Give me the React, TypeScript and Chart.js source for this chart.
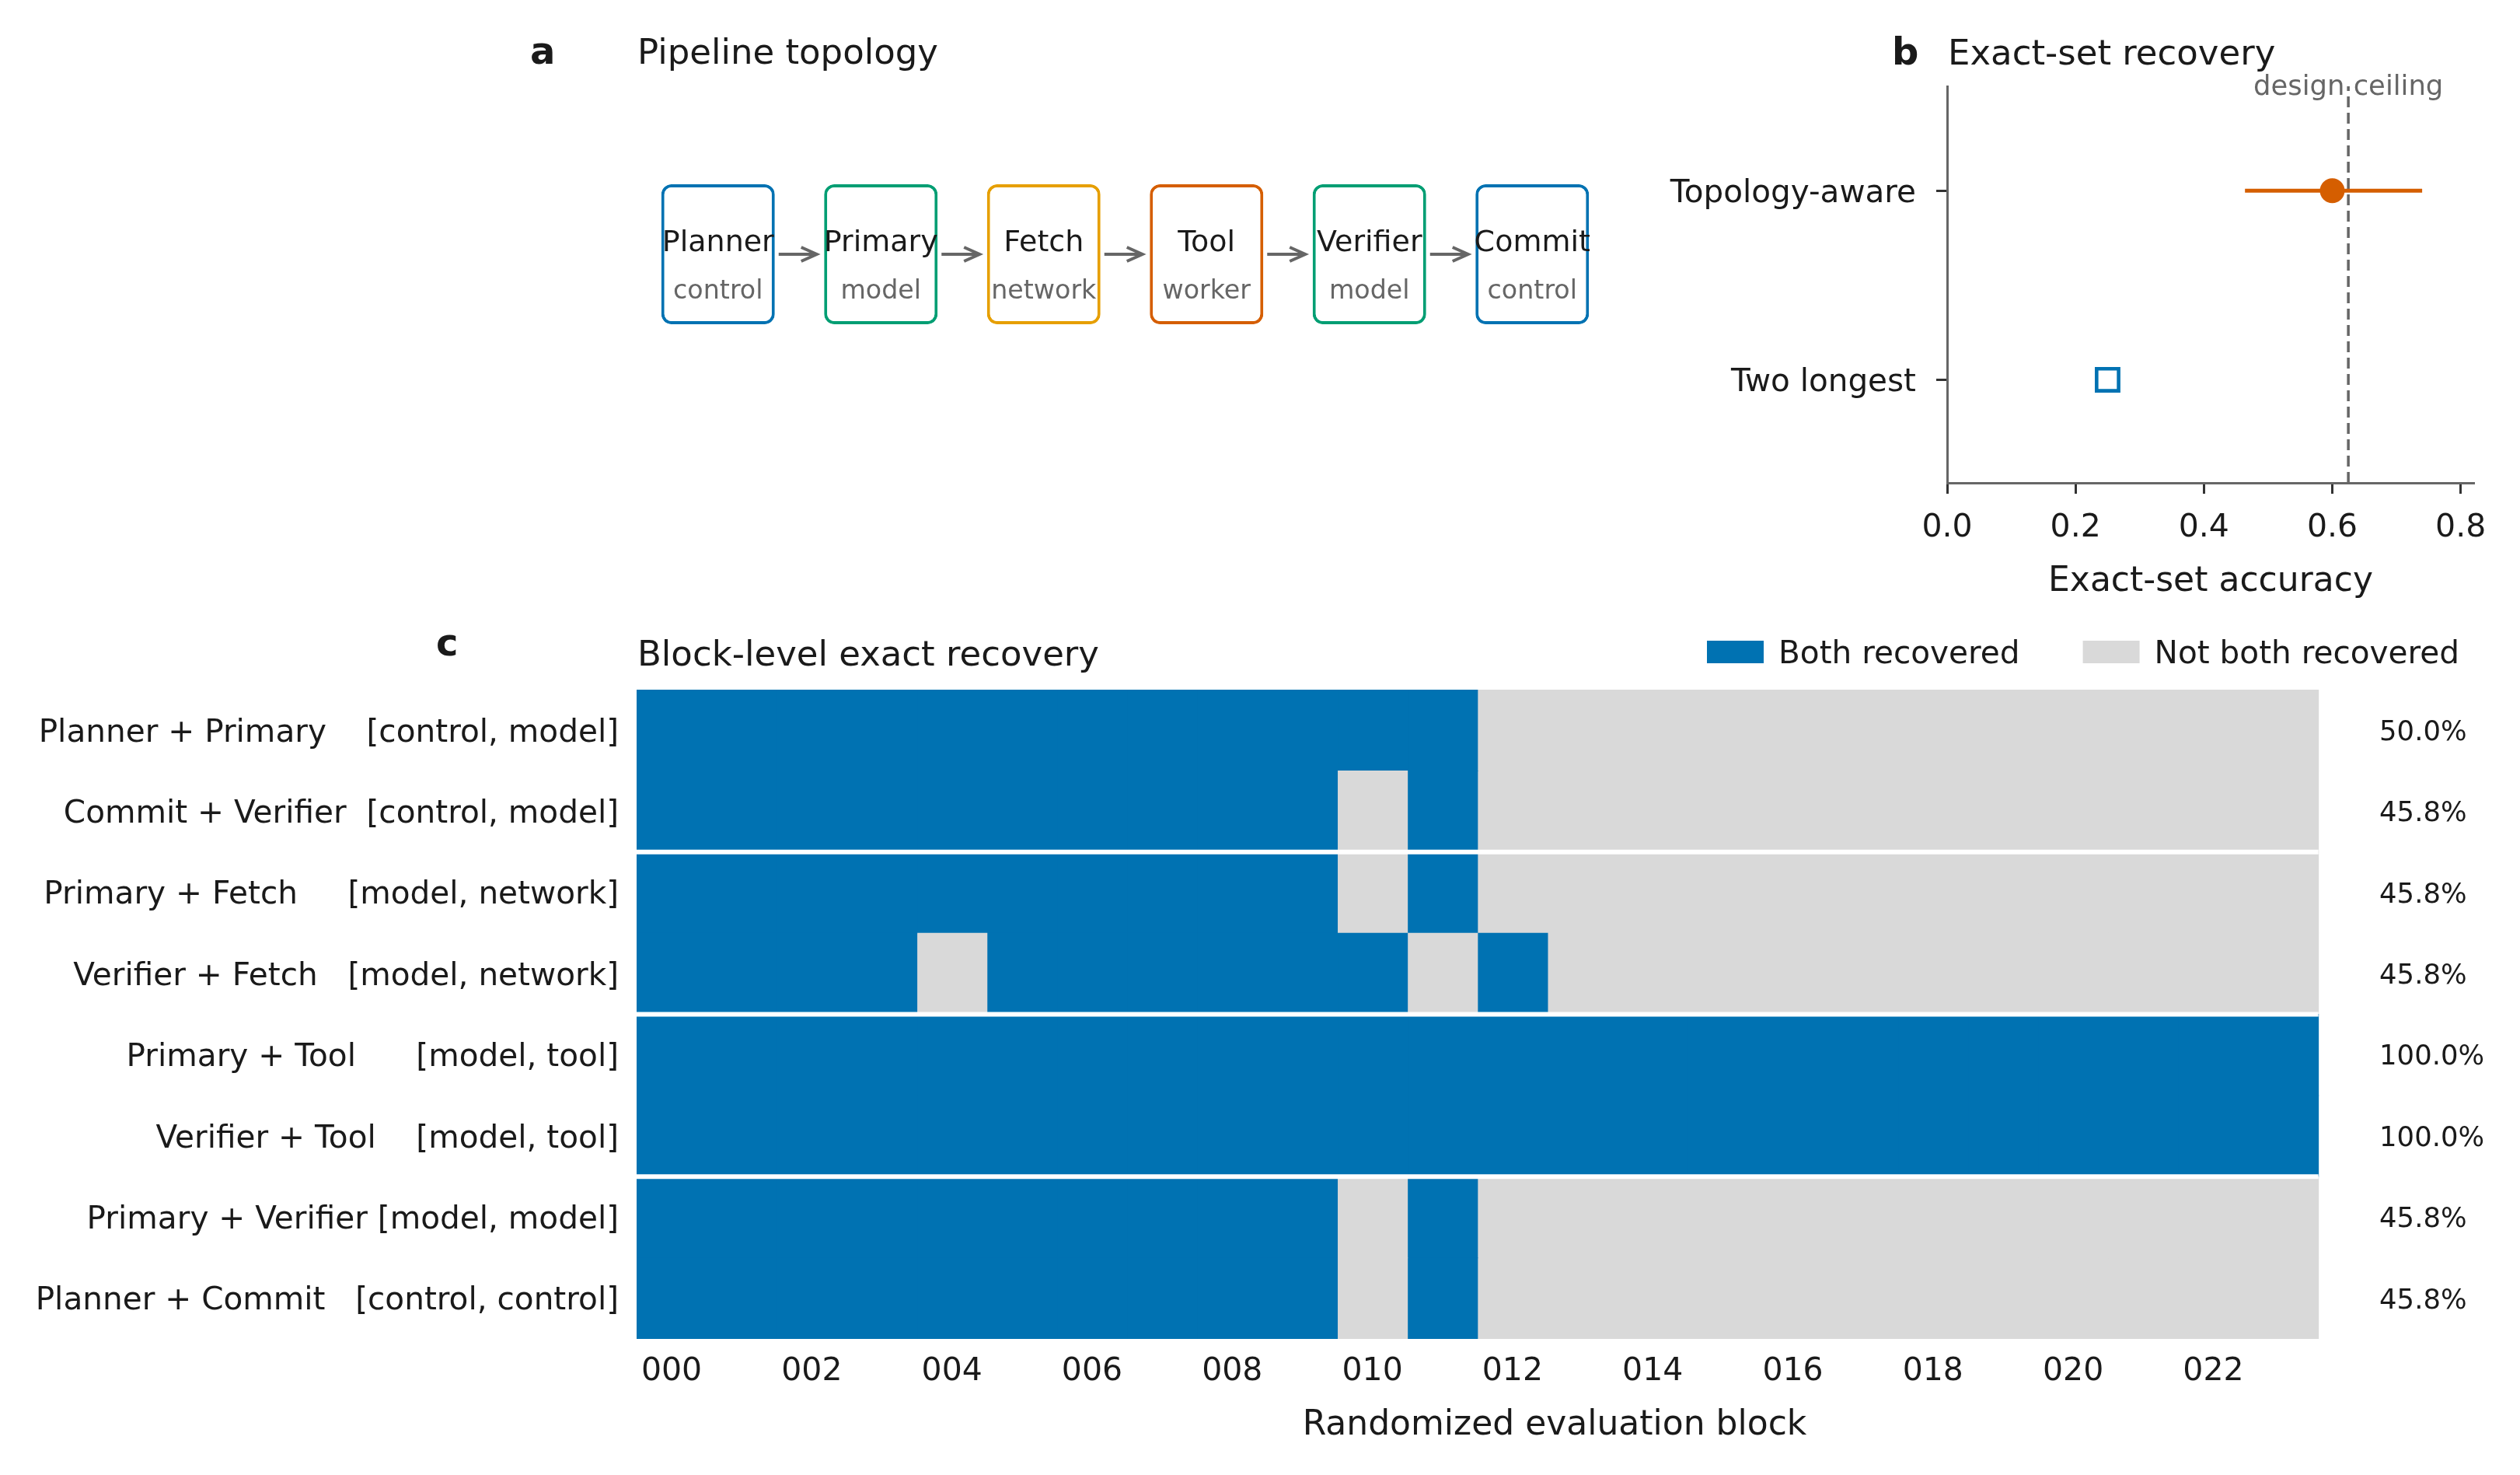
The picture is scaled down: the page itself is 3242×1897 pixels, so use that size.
import React, { useEffect, useRef } from 'react';
import { Chart, registerables } from 'chart.js';

Chart.register(...registerables);

// ---------------- page / style constants ----------------
const PAGE_W = 3242;
const PAGE_H = 1897;
const FONT = "'DejaVu Sans', 'Liberation Sans', sans-serif";
const INK = '#1a1a1a';
const MUTED = '#666666';
const TICK_INK = '#333333';
const BLUE = '#0072B2';
const GREEN = '#009E73';
const YELLOW = '#E69F00';
const VERMILLION = '#D55E00';
const CELL_OFF = '#D9D9D9';
const MID_FIX = 4; // canvas 'middle' sits a little above the glyph centre

Chart.defaults.font.family = FONT;
Chart.defaults.color = INK;

// ---------------- data: panel a (pipeline) ----------------
const STAGES = ['Planner', 'Primary', 'Fetch', 'Tool', 'Verifier', 'Commit'];
const STAGE_ROLES = ['control', 'model', 'network', 'worker', 'model', 'control'];
const STAGE_COLORS = [BLUE, GREEN, YELLOW, VERMILLION, GREEN, BLUE];

// ---------------- data: panel b (exact-set recovery) ----------------
const METHODS = ['Two longest', 'Topology-aware'];
const EXACT_SET_ACC = [0.25, 0.6];
const CI_LOWER = [null, 0.464];
const CI_UPPER = [null, 0.74];
const DESIGN_CEILING = 0.625;
const ACC_TICKS = [0, 0.2, 0.4, 0.6, 0.8];

// ---------------- data: panel c (block-level recovery) ----------------
const PAIR_LABELS = [
  'Planner + Primary    [control, model]',
  'Commit + Verifier  [control, model]',
  'Primary + Fetch     [model, network]',
  'Verifier + Fetch   [model, network]',
  'Primary + Tool      [model, tool]',
  'Verifier + Tool    [model, tool]',
  'Primary + Verifier [model, model]',
  'Planner + Commit   [control, control]',
];
const BLOCK_IDS = [
  '000', '001', '002', '003', '004', '005', '006', '007', '008', '009', '010', '011',
  '012', '013', '014', '015', '016', '017', '018', '019', '020', '021', '022', '023',
];
const REC_PLANNER_PRIMARY = [1, 1, 1, 1, 1, 1, 1, 1, 1, 1, 1, 1, 0, 0, 0, 0, 0, 0, 0, 0, 0, 0, 0, 0];
const REC_COMMIT_VERIFIER = [1, 1, 1, 1, 1, 1, 1, 1, 1, 1, 0, 1, 0, 0, 0, 0, 0, 0, 0, 0, 0, 0, 0, 0];
const REC_PRIMARY_FETCH = [1, 1, 1, 1, 1, 1, 1, 1, 1, 1, 0, 1, 0, 0, 0, 0, 0, 0, 0, 0, 0, 0, 0, 0];
const REC_VERIFIER_FETCH = [1, 1, 1, 1, 0, 1, 1, 1, 1, 1, 1, 0, 1, 0, 0, 0, 0, 0, 0, 0, 0, 0, 0, 0];
const REC_PRIMARY_TOOL = [1, 1, 1, 1, 1, 1, 1, 1, 1, 1, 1, 1, 1, 1, 1, 1, 1, 1, 1, 1, 1, 1, 1, 1];
const REC_VERIFIER_TOOL = [1, 1, 1, 1, 1, 1, 1, 1, 1, 1, 1, 1, 1, 1, 1, 1, 1, 1, 1, 1, 1, 1, 1, 1];
const REC_PRIMARY_VERIFIER = [1, 1, 1, 1, 1, 1, 1, 1, 1, 1, 0, 1, 0, 0, 0, 0, 0, 0, 0, 0, 0, 0, 0, 0];
const REC_PLANNER_COMMIT = [1, 1, 1, 1, 1, 1, 1, 1, 1, 1, 0, 1, 0, 0, 0, 0, 0, 0, 0, 0, 0, 0, 0, 0];
const RECOVERY_ROWS = [
  REC_PLANNER_PRIMARY, REC_COMMIT_VERIFIER, REC_PRIMARY_FETCH, REC_VERIFIER_FETCH,
  REC_PRIMARY_TOOL, REC_VERIFIER_TOOL, REC_PRIMARY_VERIFIER, REC_PLANNER_COMMIT,
];
const GROUP_STARTS = [2, 4, 6];
const LEGEND_LABELS = ['Both recovered', 'Not both recovered'];
const LEGEND_COLORS = [BLUE, CELL_OFF];

// ---------------- layout ----------------
const A_AREA = { left: 819, right: 2076, top: 237, bottom: 417 };
const B_AREA = { left: 2505, right: 3183, top: 111, bottom: 621 };
const C_AREA = { left: 819, right: 3181, top: 887, bottom: 1722 };
const B_X_MAX = 0.821;
const B_Y_MIN = -0.545;
const B_Y_MAX = 1.552;
const C_X_MAX = 26.2;
const C_PCT_X = 24.87;

function text(
  ctx: CanvasRenderingContext2D, s: string, x: number, y: number, size: number,
  color: string, align: CanvasTextAlign = 'left', baseline: CanvasTextBaseline = 'alphabetic', weight = 'normal',
) {
  ctx.save();
  ctx.font = `${weight} ${size}px ${FONT}`;
  ctx.fillStyle = color;
  ctx.textAlign = align;
  ctx.textBaseline = baseline;
  ctx.fillText(s, x, y);
  ctx.restore();
}

function buildPanelA(canvas: HTMLCanvasElement) {
  const plugin = {
    id: 'pipelineDecor',
    afterDatasetsDraw(chart: any) {
      const ctx = chart.ctx as CanvasRenderingContext2D;
      const bars = chart.getDatasetMeta(0).data;
      bars.forEach((bar: any, i: number) => {
        const p = bar.getProps(['x', 'y', 'base', 'width'], true);
        const top = Math.min(p.y, p.base);
        const h = Math.abs(p.base - p.y);
        text(ctx, STAGES[i], p.x, top + h * 0.478, 38, INK, 'center');
        text(ctx, STAGE_ROLES[i], p.x, top + h * 0.815, 33.3, MUTED, 'center');
        if (i < bars.length - 1) {
          const n = bars[i + 1].getProps(['x', 'width'], true);
          const x0 = p.x + p.width / 2 + 5;
          const x1 = n.x - n.width / 2 - 9.5;
          const y = top + h * 0.5;
          ctx.save();
          ctx.strokeStyle = MUTED;
          ctx.lineWidth = 4;
          ctx.beginPath();
          ctx.moveTo(x0, y);
          ctx.lineTo(x1 - 1, y);
          ctx.stroke();
          ctx.beginPath();
          ctx.moveTo(x1 - 20, y - 9);
          ctx.lineTo(x1, y);
          ctx.lineTo(x1 - 20, y + 9);
          ctx.stroke();
          ctx.restore();
        }
      });
      text(ctx, 'a', 682, 82, 48, INK, 'left', 'alphabetic', 'bold');
      text(ctx, 'Pipeline topology', chart.chartArea.left + 1, 82, 45, INK);
    },
  };
  return new Chart(canvas, {
    type: 'bar',
    data: {
      labels: STAGES,
      datasets: [{
        data: STAGES.map(() => [0, 1]) as any,
        backgroundColor: '#ffffff',
        borderColor: STAGE_COLORS,
        borderWidth: 4,
        borderRadius: 13,
        borderSkipped: false,
        barPercentage: 0.697,
        categoryPercentage: 1,
      }],
    },
    options: {
      responsive: false,
      animation: false,
      events: [],
      layout: { padding: { left: A_AREA.left, right: PAGE_W - A_AREA.right, top: A_AREA.top, bottom: PAGE_H - A_AREA.bottom } },
      scales: {
        x: { display: false },
        y: { display: false, min: 0, max: 1 },
      },
      plugins: { legend: { display: false }, tooltip: { enabled: false } },
    },
    plugins: [plugin],
  } as any);
}

function buildPanelB(canvas: HTMLCanvasElement) {
  const Y_AXIS_W = 400;
  const X_AXIS_H = 153.5;
  const plugin = {
    id: 'recoveryDecor',
    afterDraw(chart: any) {
      const ctx = chart.ctx as CanvasRenderingContext2D;
      const xs = chart.scales.x;
      text(ctx, 'b', 2434, 83, 48, INK, 'left', 'alphabetic', 'bold');
      text(ctx, 'Exact-set recovery', chart.chartArea.left + 1, 83, 45, INK);
      text(ctx, 'design ceiling', xs.getPixelForValue(DESIGN_CEILING), 122, 35.4, MUTED, 'center');
    },
  };
  const ci = METHODS.map((m, i) => (CI_LOWER[i] == null ? null : i)).filter((v) => v != null) as number[];
  return new Chart(canvas, {
    type: 'scatter',
    data: {
      datasets: [
        {
          label: 'Topology-aware',
          data: [{ x: EXACT_SET_ACC[1], y: 1 }],
          pointStyle: 'circle',
          pointRadius: 16,
          backgroundColor: VERMILLION,
          borderColor: VERMILLION,
          borderWidth: 0,
          order: 0,
        },
        {
          label: 'Two longest',
          data: [{ x: EXACT_SET_ACC[0], y: 0 }],
          pointStyle: 'rect',
          pointRadius: 20,
          backgroundColor: '#ffffff',
          borderColor: BLUE,
          borderWidth: 4.6,
          order: 1,
        },
        ...ci.map((i) => ({
          label: 'ci',
          data: [{ x: CI_LOWER[i], y: i }, { x: CI_UPPER[i], y: i }],
          showLine: true,
          borderColor: VERMILLION,
          borderWidth: 5,
          pointRadius: 0,
          order: 2,
        })),
        {
          label: 'ceiling',
          data: [{ x: DESIGN_CEILING, y: B_Y_MIN }, { x: DESIGN_CEILING, y: B_Y_MAX }],
          showLine: true,
          borderColor: MUTED,
          borderWidth: 3.5,
          borderDash: [14, 7],
          pointRadius: 0,
          order: 3,
        },
      ],
    },
    options: {
      responsive: false,
      animation: false,
      events: [],
      layout: { padding: { left: B_AREA.left - Y_AXIS_W, right: PAGE_W - B_AREA.right, top: B_AREA.top, bottom: PAGE_H - B_AREA.bottom - X_AXIS_H } },
      scales: {
        x: {
          type: 'linear',
          min: 0,
          max: B_X_MAX,
          bounds: 'data',
          afterBuildTicks: (s: any) => { s.ticks = ACC_TICKS.map((v) => ({ value: v })); },
          afterFit: (s: any) => { s.height = X_AXIS_H; },
          ticks: { callback: (v: any) => Number(v).toFixed(1), font: { size: 41 }, color: INK, padding: 16 + MID_FIX, maxRotation: 0, autoSkip: false },
          grid: { drawOnChartArea: false, drawTicks: true, tickLength: 14, tickColor: TICK_INK, tickWidth: 3 },
          border: { display: true, color: MUTED, width: 3 },
          title: { display: true, text: 'Exact-set accuracy', font: { size: 44 }, color: INK, padding: 0 },
        },
        y: {
          type: 'linear',
          min: B_Y_MIN,
          max: B_Y_MAX,
          bounds: 'data',
          afterBuildTicks: (s: any) => { s.ticks = METHODS.map((_, i) => ({ value: i })); },
          afterFit: (s: any) => { s.width = Y_AXIS_W; },
          ticks: { callback: (v: any) => METHODS[Number(v)] ?? '', font: { size: 40.5 }, color: INK, padding: 26, labelOffset: MID_FIX, autoSkip: false },
          grid: { drawOnChartArea: false, drawTicks: true, tickLength: 14, tickColor: TICK_INK, tickWidth: 3 },
          border: { display: true, color: MUTED, width: 3 },
        },
      },
      plugins: { legend: { display: false }, tooltip: { enabled: false } },
    },
    plugins: [plugin],
  } as any);
}

function buildPanelC(canvas: HTMLCanvasElement) {
  const X_AXIS_H = 137.5;
  const plugin = {
    id: 'heatmapDecor',
    afterDatasetsDraw(chart: any) {
      const ctx = chart.ctx as CanvasRenderingContext2D;
      const xs = chart.scales.x;
      const ys = chart.scales.y;
      ctx.save();
      ctx.strokeStyle = '#ffffff';
      ctx.lineWidth = 6;
      GROUP_STARTS.forEach((g) => {
        const y = (ys.getPixelForValue(g - 1) + ys.getPixelForValue(g)) / 2;
        ctx.beginPath();
        ctx.moveTo(xs.getPixelForValue(0), y);
        ctx.lineTo(xs.getPixelForValue(BLOCK_IDS.length), y);
        ctx.stroke();
      });
      ctx.restore();
    },
    afterDraw(chart: any) {
      const ctx = chart.ctx as CanvasRenderingContext2D;
      const xs = chart.scales.x;
      const ys = chart.scales.y;
      RECOVERY_ROWS.forEach((row, i) => {
        const pct = (row.reduce((a, b) => a + b, 0) / row.length) * 100;
        text(ctx, `${pct.toFixed(1)}%`, xs.getPixelForValue(C_PCT_X), ys.getPixelForValue(i) + MID_FIX - 0.5, 35.4, INK, 'left', 'middle');
      });
      text(ctx, 'c', 561, 843, 48, INK, 'left', 'alphabetic', 'bold');
      text(ctx, 'Block-level exact recovery', chart.chartArea.left + 1, 856, 45, INK);
      // legend
      ctx.save();
      ctx.font = `normal 40.6px ${FONT}`;
      let x = 2196;
      const cy = 838.5;
      LEGEND_LABELS.forEach((lab, i) => {
        ctx.fillStyle = LEGEND_COLORS[i];
        ctx.fillRect(x, cy - 14.5, 73, 29);
        ctx.fillStyle = INK;
        ctx.textBaseline = 'middle';
        ctx.textAlign = 'left';
        ctx.fillText(lab, x + 92, cy + MID_FIX);
        x += 92 + ctx.measureText(lab).width + 81;
      });
      ctx.restore();
    },
  };
  return new Chart(canvas, {
    type: 'bar',
    data: {
      labels: PAIR_LABELS,
      datasets: BLOCK_IDS.map((id, j) => ({
        label: id,
        data: RECOVERY_ROWS.map(() => 1),
        backgroundColor: RECOVERY_ROWS.map((row) => (row[j] ? BLUE : CELL_OFF)),
        borderWidth: 0,
        barPercentage: 1,
        categoryPercentage: 1,
        inflateAmount: 0.5,
      })),
    },
    options: {
      indexAxis: 'y',
      responsive: false,
      animation: false,
      events: [],
      layout: { padding: { left: 0, right: PAGE_W - C_AREA.right, top: C_AREA.top, bottom: PAGE_H - C_AREA.bottom - X_AXIS_H } },
      scales: {
        x: {
          type: 'linear',
          stacked: true,
          min: 0,
          max: C_X_MAX,
          bounds: 'data',
          afterBuildTicks: (s: any) => {
            s.ticks = BLOCK_IDS.map((_, j) => j).filter((j) => j % 2 === 0).map((j) => ({ value: j + 0.5 }));
          },
          afterFit: (s: any) => { s.height = X_AXIS_H; },
          ticks: { callback: (v: any) => BLOCK_IDS[Math.floor(Number(v))], font: { size: 41 }, color: INK, padding: 14.3 + MID_FIX - 1, maxRotation: 0, autoSkip: false },
          grid: { display: false, drawTicks: false },
          border: { display: false },
          title: { display: true, text: 'Randomized evaluation block', font: { size: 44 }, color: INK, padding: 0 },
        },
        y: {
          type: 'category',
          stacked: true,
          afterFit: (s: any) => { s.width = C_AREA.left; },
          ticks: { font: { size: 40.6 }, color: INK, padding: 23, labelOffset: MID_FIX, autoSkip: false },
          grid: { display: false, drawTicks: false },
          border: { display: false },
        },
      },
      plugins: { legend: { display: false }, tooltip: { enabled: false } },
    },
    plugins: [plugin],
  } as any);
}

export default function App() {
  const aRef = useRef<HTMLCanvasElement>(null);
  const bRef = useRef<HTMLCanvasElement>(null);
  const cRef = useRef<HTMLCanvasElement>(null);

  useEffect(() => {
    const charts = [
      buildPanelA(aRef.current as HTMLCanvasElement),
      buildPanelB(bRef.current as HTMLCanvasElement),
      buildPanelC(cRef.current as HTMLCanvasElement),
    ];
    return () => charts.forEach((c) => c.destroy());
  }, []);

  const layer: React.CSSProperties = { position: 'absolute', left: 0, top: 0, width: PAGE_W, height: PAGE_H, display: 'block' };
  return (
    <div style={{ position: 'absolute', left: 0, top: 0, width: PAGE_W, height: PAGE_H, background: '#ffffff', overflow: 'hidden' }}>
      <canvas ref={aRef} width={PAGE_W} height={PAGE_H} style={layer} />
      <canvas ref={bRef} width={PAGE_W} height={PAGE_H} style={layer} />
      <canvas ref={cRef} width={PAGE_W} height={PAGE_H} style={layer} />
    </div>
  );
}
